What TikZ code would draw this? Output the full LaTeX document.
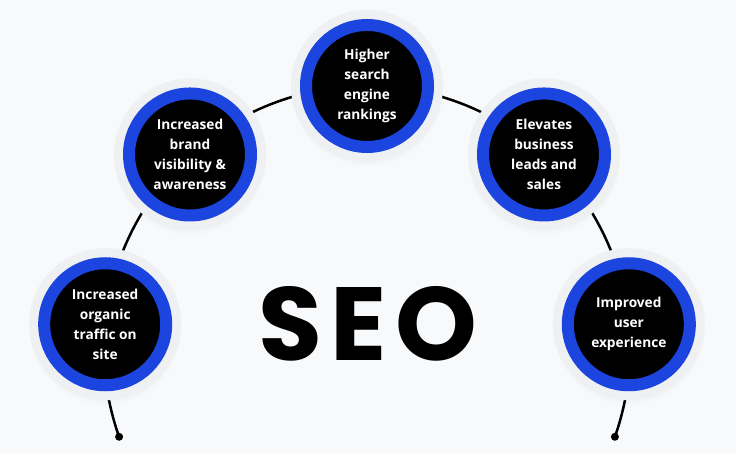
\documentclass[tikz,border=0pt]{standalone}
\usepackage{fontspec}
\setsansfont{Open Sans}
\newfontfamily\seofont{Poppins}[LetterSpace=8]
\usetikzlibrary{positioning,calc,shadows}
\definecolor{seoblue}{HTML}{1B45DE}
\definecolor{seobg}{HTML}{F8F9FB}
\definecolor{seohalo}{HTML}{EFF0F2}

\begin{document}
\begin{tikzpicture}[x=1pt,y=1pt,
      halo/.style={circle,fill=seohalo,minimum size=152pt,inner sep=0pt,
         circular drop shadow={shadow xshift=0pt,shadow yshift=-5pt,
         shadow scale=1.0,opacity=0.08}},
      ring/.style={circle,fill=black,draw=seoblue,line width=12pt,
         minimum size=122pt,inner sep=0pt,text=white,align=center,
         font=\sffamily\bfseries\fontsize{13.7}{20}\selectfont},
      dot/.style={circle,fill=black,inner sep=0pt,minimum size=8pt}]
   \fill[seobg] (0,0) rectangle (736,454);
   \useasboundingbox (0,0) rectangle (736,454);

   % centre of the arc the circles sit on
   \coordinate (o) at (367,105);

   \node[dot] (d1) at ($(o)+(199.5:263)$) {};
   \node[dot] (d2) at ($(o)+(-19.5:263)$) {};
   \draw[line width=2.5pt] (d1.center) arc[start angle=199.5,end angle=-19.5,radius=263];

   \node[halo] (h1) at ($(o)+(174.6:263)$) {};
   \node[halo] (h2) at ($(o)+(132.3:263)$) {};
   \node[halo] (h3) at ($(o)+(90:263)$) {};
   \node[halo] (h4) at ($(o)+(47.7:263)$) {};
   \node[halo] (h5) at ($(o)+(5.4:263)$) {};

   \node[ring] (b1) at (h1) {Increased\\organic\\traffic on\\site};
   \node[ring] (b2) at (h2) {Increased\\brand\\visibility \&\\awareness};
   \node[ring] (b3) at (h3) {Higher\\search\\engine\\rankings};
   \node[ring] (b4) at (h4) {Elevates\\business\\leads and\\sales};
   \node[ring] (b5) at (h5) {Improved\\user\\experience};

   \node[inner sep=0pt,font=\seofont\bfseries\fontsize{104}{104}\selectfont] (seo) at (368,130) {SEO};
\end{tikzpicture}
\end{document}
